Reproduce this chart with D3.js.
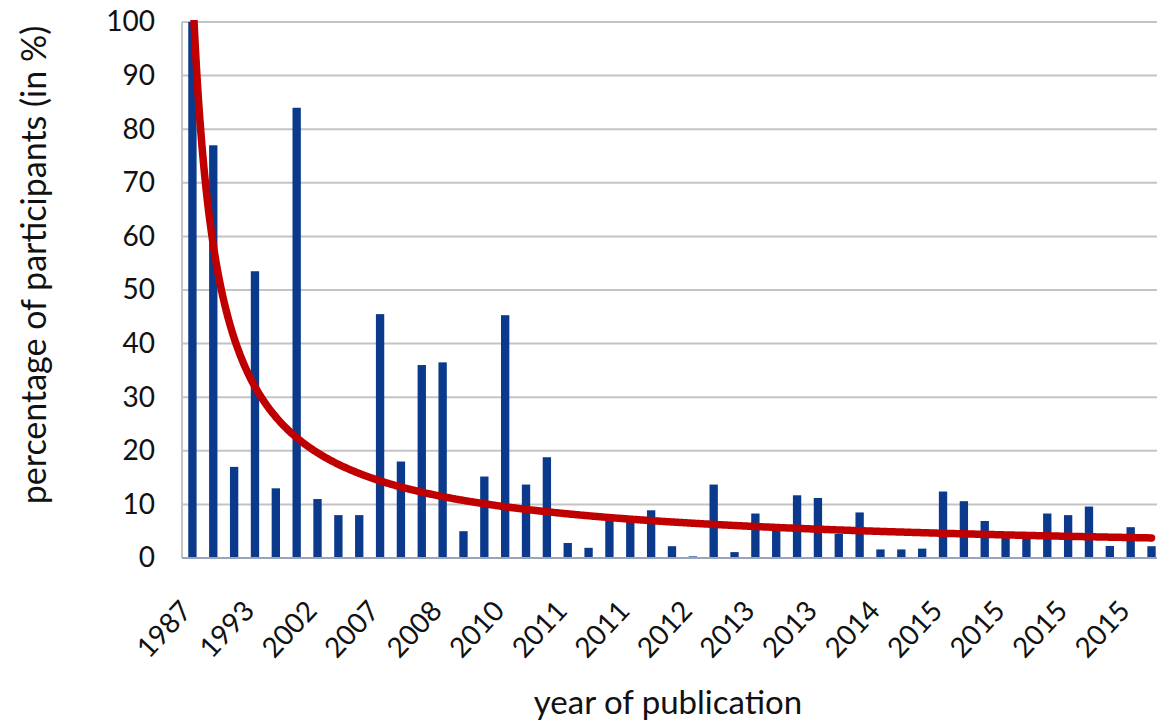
<!DOCTYPE html>
<html>
<head>
<meta charset="utf-8">
<script src="https://cdn.jsdelivr.net/npm/d3@7"></script>
<style>
  body { margin: 0; background: #fff; }
  text { font-family: Lato, "Open Sans", sans-serif; fill: #111; }
</style>
</head>
<body>
<div id="chart"></div>
<script>
// percentage of participants per study (47 studies)
const values = [100, 77, 17, 53.5, 13, 84, 11, 8, 8, 45.5,
                18, 36, 36.5, 5, 15.2, 45.3, 13.7, 18.8, 2.8, 1.9,
                7, 7.5, 8.9, 2.2, 0.3, 13.7, 1.1, 8.3, 5.5, 11.7,
                11.2, 4.5, 8.5, 1.6, 1.6, 1.75, 12.4, 10.6, 6.9, 4.5,
                4.5, 8.3, 8.0, 9.6, 2.25, 5.75, 2.2];
// only every third study gets a year label
const tickLabels = ["1987", "1993", "2002", "2007", "2008", "2010", "2011", "2011",
                    "2012", "2013", "2013", "2014", "2015", "2015", "2015", "2015"];
const yTicks = [0, 10, 20, 30, 40, 50, 60, 70, 80, 90, 100];

const studies = values.map((d, i) => i + 1);

const width = 1157;
const height = 724;
const margin = { top: 22, left: 182, bottom: 166 };
const step = 20.85;

const svg = d3.select("#chart")
    .append("svg")
    .attr("width", width)
    .attr("height", height);

const x = d3.scaleBand()
    .domain(studies)
    .range([margin.left, margin.left + studies.length * step])
    .paddingInner(0.6)
    .paddingOuter(0.3);

const y = d3.scaleLinear()
    .domain([0, 100])
    .range([height - margin.bottom, margin.top]);

// gridlines
svg.append("g")
    .selectAll("line")
    .data(yTicks.filter(d => d > 0))
    .join("line")
    .attr("x1", margin.left)
    .attr("x2", width)
    .attr("y1", d => y(d))
    .attr("y2", d => y(d))
    .attr("stroke", "#c4c4c4")
    .attr("stroke-width", 2);

// left axis line
svg.append("line")
    .attr("x1", margin.left).attr("x2", margin.left)
    .attr("y1", y(100)).attr("y2", y(0))
    .attr("stroke", "#c4c4c4")
    .attr("stroke-width", 2);

// y axis labels
const yAxis = svg.append("g")
    .attr("transform", `translate(${margin.left - 27},0)`)
    .call(d3.axisLeft(y).tickValues(yTicks).tickSize(0).tickPadding(0));
yAxis.select(".domain").remove();
yAxis.selectAll("text")
    .style("font-size", "28px")
    .style("font-family", "Lato, sans-serif")
    .attr("fill", "#111");

// bars
svg.append("g")
    .selectAll("rect")
    .data(values)
    .join("rect")
    .attr("x", (d, i) => x(studies[i]))
    .attr("width", x.bandwidth())
    .attr("y", d => y(d))
    .attr("height", d => y(0) - y(d))
    .attr("fill", "#0b3a8c");

// bottom axis
svg.append("line")
    .attr("x1", margin.left).attr("x2", width)
    .attr("y1", y(0)).attr("y2", y(0))
    .attr("stroke", "#9aa3b8")
    .attr("stroke-width", 2);

const labelled = studies.filter((d, i) => i % 3 === 0);
svg.append("g")
    .selectAll("text")
    .data(labelled)
    .join("text")
    .attr("transform", d => `translate(${x(d) + x.bandwidth() / 2 + 1},${y(0) + 54}) rotate(-47)`)
    .attr("text-anchor", "end")
    .style("font-size", "28px")
    .text((d, i) => tickLabels[i]);

// power trendline fitted to the bars (least squares on logs)
const lx = studies.map(Math.log);
const ly = values.map(Math.log);
const mx = d3.mean(lx), my = d3.mean(ly);
const b = d3.sum(lx, (d, i) => (d - mx) * (ly[i] - my)) / d3.sum(lx, d => (d - mx) * (d - mx));
const a = Math.exp(my - b * mx);

const xc = d3.scaleLinear()
    .domain([1, studies.length])
    .range([x(1) + x.bandwidth() / 2, x(studies.length) + x.bandwidth() / 2]);

const trendPts = d3.range(1, studies.length + 0.001, 0.05);

svg.append("clipPath")
    .attr("id", "plotclip")
    .append("rect")
    .attr("x", margin.left)
    .attr("y", y(100) - 2)
    .attr("width", width - margin.left)
    .attr("height", y(0) - y(100) + 10);

svg.append("path")
    .datum(trendPts)
    .attr("clip-path", "url(#plotclip)")
    .attr("fill", "none")
    .attr("stroke", "#c00000")
    .attr("stroke-width", 7.5)
    .attr("stroke-linecap", "round")
    .attr("d", d3.line()
        .x(d => xc(d))
        .y(d => y(a * Math.pow(d, b))));

// axis titles
svg.append("text")
    .attr("transform", `translate(46,${(y(0) + y(100)) / 2 - 25}) rotate(-90)`)
    .attr("text-anchor", "middle")
    .style("font-size", "34px")
    .text("percentage of participants (in %)");

svg.append("text")
    .attr("x", 668)
    .attr("y", 714)
    .attr("text-anchor", "middle")
    .style("font-size", "33px")
    .text("year of publication");
</script>
</body>
</html>
